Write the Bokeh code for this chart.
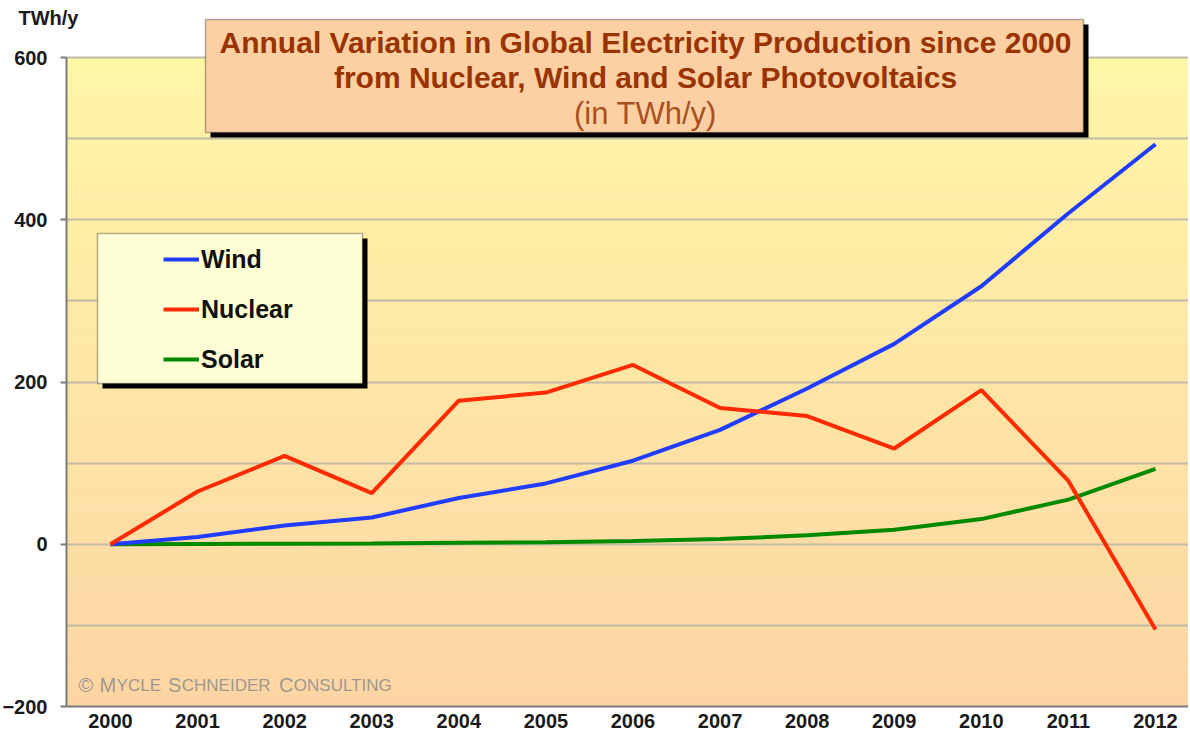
import numpy as np
from bokeh.plotting import figure
from bokeh.models import (BoxAnnotation, Label, Legend, LegendItem, FixedTicker,
                          ColumnDataSource, Range1d)
from bokeh.embed import file_html
from bokeh.resources import INLINE

# ---------------- data ----------------
years = [2000, 2001, 2002, 2003, 2004, 2005, 2006, 2007, 2008, 2009, 2010, 2011, 2012]
wind = [0, 9, 23, 33, 57, 75, 103, 141, 192, 247, 318, 408, 493]
nuclear = [0, 65, 109, 63, 177, 187, 221, 168, 158, 118, 190, 78, -105]
solar = [0, 0.3, 0.6, 1, 2, 2.5, 4, 6.5, 11, 18, 31, 55, 93]
y_ticks = [-200, 0, 200, 400, 600]
grid_ticks = [-100, 0, 100, 200, 300, 400, 500, 600]
title_lines = ["Annual Variation in Global Electricity Production since 2000",
               "from Nuclear, Wind and Solar Photovoltaics"]
subtitle = "(in TWh/y)"
unit_label = "TWh/y"

FONT = "Liberation Sans"
Y_MIN, Y_MAX = -200, 600

# layout (canvas px): the frame spans the whole canvas; value area is drawn inside it
WIDTH, HEIGHT = 1188, 740
AX_LEFT, AX_TOP, AX_BOTTOM = 66, 57, 706
X_FIRST_PX, X_LAST_PX = 110, 1155
px_per_year = (X_LAST_PX - X_FIRST_PX) / (years[-1] - years[0])
x_start = years[0] - X_FIRST_PX / px_per_year
x_end = years[-1] + (WIDTH - X_LAST_PX) / px_per_year
x_axis_left = years[0] - (X_FIRST_PX - AX_LEFT) / px_per_year
px_per_unit = (AX_BOTTOM - AX_TOP) / (Y_MAX - Y_MIN)
y_top = Y_MAX + AX_TOP / px_per_unit
y_bottom = Y_MIN - (HEIGHT - AX_BOTTOM) / px_per_unit


def sx(wx):
    return wx


def sy(wy):
    return HEIGHT - wy


p = figure(width=WIDTH, height=HEIGHT, output_backend="svg", toolbar_location=None,
           x_range=Range1d(x_start, x_end), y_range=Range1d(y_bottom, y_top),
           min_border_left=0, min_border_top=0, min_border_bottom=0, min_border_right=0)
p.background_fill_color = "white"
p.border_fill_color = "white"
p.outline_line_color = None

# gradient background (decoration) only inside the value area
nb = 100
edges = np.linspace(Y_MIN, Y_MAX, nb + 1)
top_c = np.array([255, 246, 166])
bot_c = np.array([253, 213, 164])
cols = []
for i in range(nb):
    t = (edges[i] + 4 - Y_MIN) / (Y_MAX - Y_MIN)
    c = bot_c + (top_c - bot_c) * t
    cols.append("#%02x%02x%02x" % tuple(int(round(v)) for v in c))
tops = np.minimum(edges[1:] + 0.5, Y_MAX)
p.quad(left=x_axis_left, right=x_end + 1, bottom=edges[:-1], top=tops,
       fill_color=cols, line_color=None, level="image")

# grid
p.xgrid.visible = False
p.ygrid.ticker = FixedTicker(ticks=grid_ticks)
p.ygrid.cross_bounds = (x_axis_left, x_end + 1)
p.ygrid.grid_line_color = "#c2bba9"
p.ygrid.grid_line_width = 2

# axes (placed inside the frame at the edges of the value area)
p.yaxis.ticker = FixedTicker(ticks=y_ticks)
p.yaxis.bounds = (Y_MIN, Y_MAX)
p.yaxis.fixed_location = x_axis_left
p.xaxis.ticker = FixedTicker(ticks=years)
p.xaxis.bounds = (x_axis_left, x_end + 1)
p.xaxis.fixed_location = Y_MIN
for ax in (p.xaxis, p.yaxis):
    ax.axis_line_color = "#7a7a7a"
    ax.axis_line_width = 2
    ax.minor_tick_line_color = None
    ax.major_label_text_font = FONT
    ax.major_label_text_font_style = "bold"
    ax.major_label_text_font_size = "20px"
    ax.major_label_text_color = "#1a1a1a"
p.yaxis.major_tick_out = 6
p.yaxis.major_tick_in = 0
p.yaxis.major_tick_line_color = "#7a7a7a"
p.yaxis.major_tick_line_width = 2
p.yaxis.major_label_standoff = 13
p.xaxis.major_tick_line_color = None
p.xaxis.major_tick_out = 0
p.xaxis.major_label_standoff = 7

src = ColumnDataSource(dict(x=years, wind=wind, nuclear=nuclear, solar=solar))
r_solar = p.line("x", "solar", source=src, line_color="#008a00", line_width=4)
r_wind = p.line("x", "wind", source=src, line_color="#1f3cff", line_width=4)
r_nuc = p.line("x", "nuclear", source=src, line_color="#ff2a00", line_width=4)


def box(l, t, r, b, **kw):
    return BoxAnnotation(left=sx(l), right=sx(r), top=sy(t), bottom=sy(b),
                         left_units="screen", right_units="screen",
                         top_units="screen", bottom_units="screen",
                         fill_alpha=1, level="overlay", **kw)


def label(text, wx, wy, size, color, bold=False, align="center"):
    return Label(x=sx(wx), y=sy(wy), x_units="screen", y_units="screen", text=text,
                 text_align=align, text_baseline="middle", text_font=FONT,
                 text_font_style="bold" if bold else "normal",
                 text_font_size="%spx" % size, text_color=color, level="overlay")


# legend box (decoration) with shadow
p.add_layout(box(102, 238, 367, 388, fill_color="black", line_color=None))
p.add_layout(box(97, 233, 362, 383, fill_color="#ffffd5", line_color="black", line_width=1.5))

legend = Legend(items=[LegendItem(label="Wind", renderers=[r_wind]),
                       LegendItem(label="Nuclear", renderers=[r_nuc]),
                       LegendItem(label="Solar", renderers=[r_solar])],
                location=(sx(163), sy(374)), orientation="vertical")
legend.background_fill_alpha = 0
legend.border_line_color = None
legend.padding = 0
legend.margin = 0
legend.spacing = 20
legend.glyph_width = 36
legend.glyph_height = 30
legend.label_height = 30
legend.label_standoff = 2
legend.label_text_font = FONT
legend.label_text_font_style = "bold"
legend.label_text_font_size = "25px"
legend.label_text_color = "#111111"
legend.label_text_baseline = "middle"
legend.level = "overlay"
p.add_layout(legend, "center")

# title box with shadow
p.add_layout(box(210, 24, 1088, 137, fill_color="black", line_color=None))
p.add_layout(box(205, 19, 1083, 132, fill_color="#fdd0a4", line_color="black", line_width=1.5))

p.add_layout(label(title_lines[0], 645, 41.5, 30, "#993300", bold=True))
p.add_layout(label(title_lines[1], 645, 77, 30, "#993300", bold=True))
p.add_layout(label(subtitle, 645, 112.5, 31, "#a8501e"))

p.add_layout(label(unit_label, 18, 17.5, 20, "#1a1a1a", bold=True, align="left"))

# copyright in small caps, built from pieces
W = {"©": .737, " ": .278, "M": .833, "Y": .667, "C": .722, "L": .556, "E": .667,
     "S": .667, "H": .722, "N": .722, "I": .278, "D": .722, "R": .722, "O": .778,
     "U": .722, "T": .611, "G": .778}
pieces = [("©", 20, 1), ("M", 20, 0), ("YCLE", 17, 1), ("S", 20, 0), ("CHNEIDER", 17, 1),
          ("C", 20, 0), ("ONSULTING", 17, 0)]
cx = 78.0
for txt, fs, space_after in pieces:
    p.add_layout(label(txt, cx, 684.3 + (0.9 if fs < 20 else 0), fs, "#a0988c", align="left"))
    cx += sum(W[ch] for ch in txt) * fs * 1.03 + space_after * W[" "] * 20 * 1.03

open("out.html", "w").write(file_html(p, INLINE))
